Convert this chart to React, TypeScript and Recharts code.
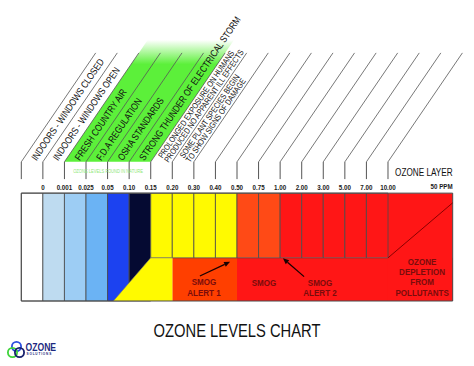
import React from "react";
import {
  ComposedChart,
  XAxis,
  YAxis,
  Area,
  ReferenceArea,
  ReferenceLine,
  ReferenceDot
} from "recharts";

// ppm thresholds, one per column boundary (boundary 1 .. 17)
const ppmTicks = [
  "0", "0.001", "0.025", "0.05", "0.10", "0.15", "0.20", "0.30", "0.40",
  "0.50", "0.75", "1.00", "2.00", "3.00", "5.00", "7.00", "10.00"
];

// upper band colour for each of the 17 unit columns
const columnColors = [
  "#ffffff", "#bedbf0", "#9dcdf4", "#6bb3f4", "#1c42f0", "#050a32",
  "#fffa00", "#fffa00", "#fffa00", "#fffa00",
  "#ff4a16", "#ff4a16",
  "#ff1616", "#ff1616", "#ff1616", "#ff1616", "#ff1616"
];

// text written along each slanted guide line
const exposureLabels: string[][] = [
  ["INDOORS - WINDOWS CLOSED"],
  ["INDOORS - WINDOWS OPEN"],
  ["FRESH COUNTRY AIR"],
  ["F.D.A REGULATION"],
  ["OSHA STANDARDS"],
  ["STRONG THUNDER OF ELECTRICAL STORM"],
  ["PROLONGED EXPOSURE ON HUMANS", "PRODUCED NO APPARENT ILL EFFECTS"],
  ["SOME PLANT SPECIES BEGIN", "TO SHOW SIGNS OF DAMAGE"]
];

// lower smog band
const smogBands = [
  { from: 7, to: 10, top: 2, color: "#ff3f00" },
  { from: 10, to: 20, top: 2, color: "#ff1616" },
  { from: 17, to: 20, top: 5, color: "#ff1616" }
];

const yellowWedge = [
  { x: 4.27, y: 0 },
  { x: 6, y: 2 },
  { x: 7, y: 2 }
];

const smogNotes = [
  { x: 8.47, y: 0.64, lines: ["SMOG", "ALERT 1"] },
  { x: 11.25, y: 0.85, lines: ["SMOG"] },
  { x: 13.85, y: 0.62, lines: ["SMOG", "ALERT 2"] },
  { x: 18.58, y: 1.11, lines: ["OZONE", "DEPLETION", "FROM", "POLLUTANTS"] }
];

const smogArrows = [
  { from: { x: 8.28, y: 1.16 }, to: { x: 9.68, y: 1.82 } },
  { from: { x: 13.11, y: 1.13 }, to: { x: 12.13, y: 1.98 } }
];

const X_MAX = 20;
const Y_MAX = 12.2;
const BOX_TOP = 5;
const SPLIT = 2;
const TICK_LOW = 5.65;
const TICK_TOP = 6.45;
const DIAG_DX = 3.45;
const DIAG_DY = 5.05;
const NATURE_FROM = 2;
const NATURE_TO = 6;
const NATURE_TOP = 12.1;
const ANGLE = (Math.atan2(DIAG_DY, DIAG_DX) * 180) / Math.PI;

// Arial Narrow is not installed: squeeze Liberation Sans instead
const SANS = "'Liberation Sans', Arial, sans-serif";
const SQUEEZE = 0.82;
const LINE_COLOR = "#4a4a4a";
const NOTE_COLOR = "#7a0c0c";

const natureRun = (NATURE_TOP - TICK_TOP) / (DIAG_DY / DIAG_DX);
const natureBand = [
  { x: NATURE_FROM, band: [TICK_TOP, TICK_TOP] },
  { x: NATURE_FROM + natureRun, band: [TICK_TOP, NATURE_TOP] },
  { x: NATURE_TO, band: [TICK_TOP, NATURE_TOP] },
  { x: NATURE_TO + natureRun, band: [NATURE_TOP, NATURE_TOP] }
];

type NarrowProps = {
  x: number;
  y: number;
  size: number;
  anchor?: "start" | "middle" | "end";
  weight?: number;
  fill?: string;
  spacing?: number;
  children: React.ReactNode;
};

const NarrowText = ({ x, y, size, anchor = "start", weight = 400, fill = "#111", spacing, children }: NarrowProps) => (
  <text
    transform={`translate(${x},${y}) scale(${SQUEEZE},1)`}
    textAnchor={anchor}
    dominantBaseline="central"
    fontSize={size}
    fontWeight={weight}
    fontFamily={SANS}
    fill={fill}
    letterSpacing={spacing}
  >
    {children}
  </text>
);

const SlantText = ({ cx, cy, lines }: { cx: number; cy: number; lines: string[] }) => {
  const two = lines.length > 1;
  const size = two ? 8.4 : 9.8;
  return (
    <g transform={`translate(${cx},${cy}) rotate(${-ANGLE})`}>
      {lines.map((t, k) => (
        <NarrowText key={k} x={3} y={(k - (lines.length - 1) / 2) * 7.4} size={size}>
          {t}
        </NarrowText>
      ))}
    </g>
  );
};

const NoteText = ({ cx, cy, lines }: { cx: number; cy: number; lines: string[] }) => (
  <g>
    {lines.map((t, k) => (
      <NarrowText
        key={k}
        x={cx}
        y={cy + (k - (lines.length - 1) / 2) * 10.3}
        size={9.8}
        anchor="middle"
        weight={700}
        fill={NOTE_COLOR}
      >
        {t}
      </NarrowText>
    ))}
  </g>
);

const Arrow = (p: any) => {
  const { x1, y1, x2, y2 } = p;
  const a = Math.atan2(y2 - y1, x2 - x1);
  const len = 6;
  const w = 2.6;
  const bx = x2 - len * Math.cos(a);
  const by = y2 - len * Math.sin(a);
  const pts = [
    [x2, y2],
    [bx + w * Math.sin(a), by - w * Math.cos(a)],
    [bx - w * Math.sin(a), by + w * Math.cos(a)]
  ]
    .map((q) => q.join(","))
    .join(" ");
  return (
    <g>
      <line x1={x1} y1={y1} x2={bx} y2={by} stroke="#1a0000" strokeWidth={1.3} />
      <polygon points={pts} fill="#1a0000" />
    </g>
  );
};

const OverlayText = () => (
  <svg
    width={474}
    height={366}
    style={{ position: "absolute", left: 0, top: 0, pointerEvents: "none" }}
  >
    <NarrowText x={237} y={330.3} size={18} anchor="middle">
      OZONE LEVELS CHART
    </NarrowText>
    <circle cx={16.5} cy={346.5} r={4.6} fill="none" stroke="#2b4fe0" strokeWidth={1.8} />
    <circle cx={12.5} cy={352.5} r={4.6} fill="none" stroke="#3ed33a" strokeWidth={1.8} />
    <circle cx={19.5} cy={352.5} r={4.6} fill="none" stroke="#17206e" strokeWidth={1.8} />
    <NarrowText x={25.5} y={347} size={10.5} weight={700} fill="#1d2a80">
      OZONE
    </NarrowText>
    <NarrowText x={26.5} y={354} size={3.8} weight={700} fill="#1d2a80" spacing={1}>
      SOLUTIONS
    </NarrowText>
  </svg>
);

export default function App() {
  const boundaries = Array.from({ length: ppmTicks.length + 1 }, (_, b) => b);

  return (
    <div style={{ position: "absolute", left: 0, top: 0, width: 474, height: 366, background: "#fff" }}>
      <ComposedChart
        width={474}
        height={366}
        margin={{ top: 37.8, right: 21.3, bottom: 65, left: 21.3 }}
      >
        <defs>
          <linearGradient id="natureFade" x1="0" y1="0" x2="0" y2="1">
            <stop offset="0" stopColor="#5cf03a" stopOpacity={0} />
            <stop offset="0.2" stopColor="#5cf03a" stopOpacity={1} />
            <stop offset="1" stopColor="#5cf03a" stopOpacity={1} />
          </linearGradient>
        </defs>
        <XAxis type="number" dataKey="x" domain={[0, X_MAX]} allowDataOverflow hide />
        <YAxis type="number" domain={[0, Y_MAX]} allowDataOverflow hide />

        {smogBands.map((s, i) => (
          <ReferenceArea
            key={`smog-${i}`}
            x1={s.from}
            x2={s.to}
            y1={0}
            y2={s.top}
            fill={s.color}
            fillOpacity={1}
            stroke="none"
          />
        ))}

        {columnColors.map((color, i) => (
          <ReferenceArea
            key={`col-${i}`}
            x1={i}
            x2={i + 1}
            y1={i < 6 ? 0 : SPLIT}
            y2={BOX_TOP}
            fill={color}
            fillOpacity={1}
            stroke={LINE_COLOR}
            strokeWidth={0.8}
          />
        ))}

        <Area
          data={yellowWedge}
          dataKey="y"
          type="linear"
          fill="#fffa00"
          fillOpacity={1}
          stroke="#777"
          strokeWidth={0.6}
          isAnimationActive={false}
        />
        <Area
          data={natureBand}
          dataKey="band"
          type="linear"
          fill="url(#natureFade)"
          fillOpacity={1}
          stroke="none"
          isAnimationActive={false}
        />

        <ReferenceArea
          x1={0}
          x2={X_MAX}
          y1={0}
          y2={BOX_TOP}
          fill="none"
          stroke={LINE_COLOR}
          strokeWidth={1}
        />
        <ReferenceLine
          segment={[
            { x: 17, y: SPLIT },
            { x: X_MAX, y: 4.55 }
          ]}
          stroke="#8a0000"
          strokeWidth={1}
          ifOverflow="visible"
        />

        {boundaries.map((b) => (
          <ReferenceLine
            key={`tick-${b}`}
            segment={[
              { x: b, y: TICK_LOW },
              { x: b, y: TICK_TOP }
            ]}
            stroke="#555"
            strokeWidth={1}
            ifOverflow="visible"
          />
        ))}

        {ppmTicks.map((t, i) => (
          <ReferenceDot
            key={`ppm-${i}`}
            x={i + 1}
            y={TICK_LOW}
            r={0}
            ifOverflow="visible"
            shape={(p: any) => (
              <NarrowText x={p.cx} y={p.cy + 8.6} size={7.6} anchor="middle" weight={700} fill="#1a1a1a">
                {t}
              </NarrowText>
            )}
          />
        ))}

        {boundaries.map((b) => (
          <ReferenceLine
            key={`diag-${b}`}
            segment={[
              { x: b, y: TICK_TOP },
              { x: b + DIAG_DX, y: TICK_TOP + DIAG_DY }
            ]}
            stroke="#555"
            strokeWidth={0.8}
            ifOverflow="visible"
          />
        ))}

        {exposureLabels.map((lines, i) => (
          <ReferenceDot
            key={`lab-${i}`}
            x={i + 0.5}
            y={TICK_TOP}
            r={0}
            ifOverflow="visible"
            shape={(p: any) => <SlantText cx={p.cx} cy={p.cy} lines={lines} />}
          />
        ))}

        <ReferenceDot
          x={4.02}
          y={6.03}
          r={0}
          ifOverflow="visible"
          shape={(p: any) => (
            <NarrowText x={p.cx} y={p.cy} size={5} anchor="middle" fill="#8ee878">
              OZONE LEVELS FOUND IN NATURE
            </NarrowText>
          )}
        />
        <ReferenceDot
          x={X_MAX}
          y={5.93}
          r={0}
          ifOverflow="visible"
          shape={(p: any) => (
            <NarrowText x={p.cx} y={p.cy} size={10} anchor="end">
              OZONE LAYER
            </NarrowText>
          )}
        />
        <ReferenceDot
          x={X_MAX}
          y={5.33}
          r={0}
          ifOverflow="visible"
          shape={(p: any) => (
            <NarrowText x={p.cx} y={p.cy} size={7.6} anchor="end" weight={700} fill="#1a1a1a">
              50 PPM
            </NarrowText>
          )}
        />

        {smogNotes.map((n, i) => (
          <ReferenceDot
            key={`note-${i}`}
            x={n.x}
            y={n.y}
            r={0}
            ifOverflow="visible"
            shape={(p: any) => <NoteText cx={p.cx} cy={p.cy} lines={n.lines} />}
          />
        ))}

        {smogArrows.map((a, i) => (
          <ReferenceLine
            key={`arrow-${i}`}
            segment={[a.from, a.to]}
            ifOverflow="visible"
            shape={(p: any) => <Arrow {...p} />}
          />
        ))}
      </ComposedChart>
      <OverlayText />
    </div>
  );
}
